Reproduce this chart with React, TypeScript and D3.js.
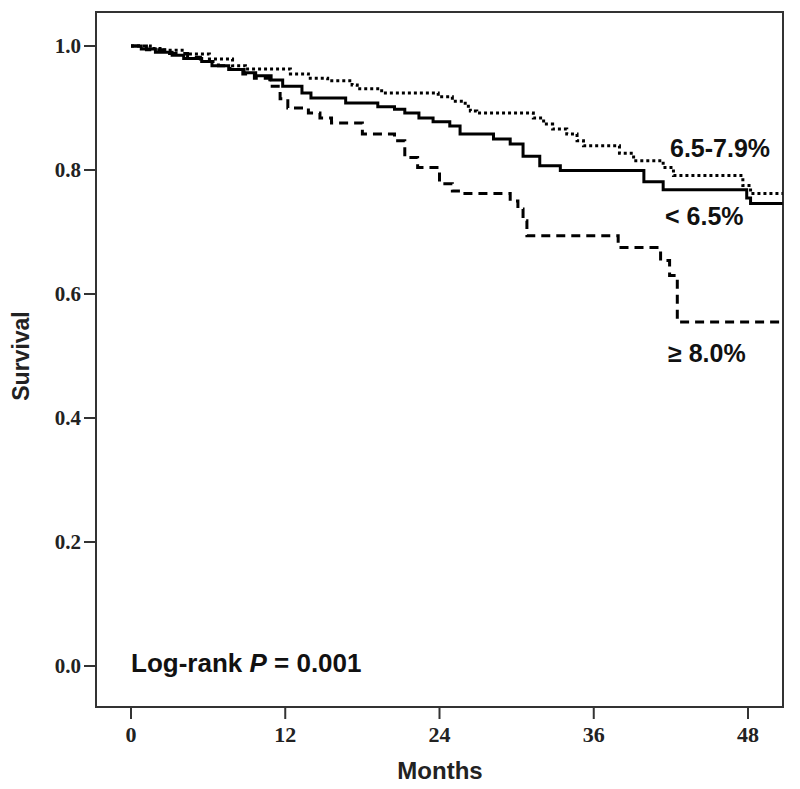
import * as d3 from "d3";

const MONTH_TICKS = [0, 12, 24, 36, 48];
const SURV_TICKS = [0, 0.2, 0.4, 0.6, 0.8, 1.0];
const END_MONTH = 50.7;

// < 6.5%  (solid)
const lowTime = [0, 0.8, 1.9, 3.2, 4.1, 5.5, 6.3, 7.6, 8.8, 9.7, 10.9, 11.8, 13.3, 14, 16.7, 19.2, 20.5, 21.3, 22.4, 23.5, 24.8, 25.6, 28.2, 29.5, 30.5, 31.8, 33.4, 39.9, 41.4, 47.9, 48.2];
const lowSurv = [1, 0.995, 0.99, 0.985, 0.98, 0.975, 0.968, 0.962, 0.957, 0.952, 0.945, 0.935, 0.924, 0.916, 0.908, 0.902, 0.898, 0.892, 0.884, 0.878, 0.871, 0.858, 0.85, 0.842, 0.822, 0.807, 0.799, 0.781, 0.768, 0.755, 0.746];

// 6.5-7.9%  (dotted)
const midTime = [0, 1.5, 2.6, 4.2, 6.1, 7.9, 8.9, 12.4, 13.8, 15.3, 17.2, 17.6, 19.5, 23.9, 25.0, 26.0, 26.4, 26.9, 31.3, 32.1, 32.8, 33.9, 34.7, 35.2, 38.0, 39.1, 41.4, 42.2, 47.6, 48.2];
const midSurv = [1, 0.996, 0.993, 0.987, 0.979, 0.968, 0.963, 0.955, 0.948, 0.944, 0.937, 0.931, 0.924, 0.918, 0.911, 0.903, 0.895, 0.892, 0.884, 0.874, 0.866, 0.858, 0.847, 0.839, 0.827, 0.815, 0.804, 0.791, 0.775, 0.762];

// >= 8.0%  (dashed)
const highTime = [0, 1.2, 3.0, 4.4, 5.4, 6.8, 7.7, 8.7, 9.6, 10.8, 11.6, 12.2, 13.8, 14.7, 15.6, 18.0, 20.5, 21.3, 22.3, 24.0, 25.0, 25.6, 29.5, 30.1, 30.5, 30.8, 37.9, 41.2, 41.9, 42.5];
const highSurv = [1, 0.994, 0.988, 0.982, 0.975, 0.968, 0.962, 0.955, 0.948, 0.935, 0.915, 0.9, 0.892, 0.884, 0.876, 0.858, 0.847, 0.82, 0.804, 0.778, 0.766, 0.762, 0.75, 0.737, 0.718, 0.694, 0.675, 0.654, 0.63, 0.555];

const SERIES = [
  { name: "< 6.5%", time: lowTime, surv: lowSurv, dash: "none" },
  { name: "6.5-7.9%", time: midTime, surv: midSurv, dash: "3,3" },
  { name: "≥ 8.0%", time: highTime, surv: highSurv, dash: "9,6" },
];

const W = 800;
const H = 789;

const FRAME = { left: 96, top: 12, right: 783, bottom: 707 };

const SANS = "'Liberation Sans', Arial, sans-serif";
const SERIF = "'Liberation Serif', 'Times New Roman', serif";
const AXIS_COLOR = "#333";

export default function App() {
  const x = d3.scaleLinear().domain([0, 48]).range([131, 748]);
  const y = d3.scaleLinear().domain([0, 1]).range([666, 46]);

  const line = d3
    .line<[number, number]>()
    .x((d) => x(d[0]))
    .y((d) => y(d[1]))
    .curve(d3.curveStepAfter);

  return (
    <svg
      width={W}
      height={H}
      style={{ position: "absolute", left: 0, top: 0, background: "#fff" }}
      xmlns="http://www.w3.org/2000/svg"
    >
      {/* frame */}
      <rect
        x={FRAME.left}
        y={FRAME.top}
        width={FRAME.right - FRAME.left}
        height={FRAME.bottom - FRAME.top}
        fill="none"
        stroke={AXIS_COLOR}
        strokeWidth={2}
      />

      {/* y axis */}
      {SURV_TICKS.map((t) => (
        <g key={t}>
          <line x1={FRAME.left - 12} x2={FRAME.left} y1={y(t)} y2={y(t)} stroke={AXIS_COLOR} strokeWidth={2} />
          <text
            x={FRAME.left - 15}
            y={y(t)}
            dy="0.35em"
            textAnchor="end"
            fontFamily={SERIF}
            fontWeight="bold"
            fontSize={21}
            fill="#222"
          >
            {t.toFixed(1)}
          </text>
        </g>
      ))}

      {/* x axis */}
      {MONTH_TICKS.map((t) => (
        <g key={t}>
          <line x1={x(t)} x2={x(t)} y1={FRAME.bottom} y2={FRAME.bottom + 12} stroke={AXIS_COLOR} strokeWidth={2} />
          <text
            x={x(t)}
            y={FRAME.bottom + 35}
            textAnchor="middle"
            fontFamily={SERIF}
            fontWeight="bold"
            fontSize={22}
            fill="#222"
          >
            {t}
          </text>
        </g>
      ))}

      <text x={440} y={779} textAnchor="middle" fontFamily={SANS} fontWeight="bold" fontSize={24} fill="#222">
        Months
      </text>
      <text
        transform="translate(29,356) rotate(-90)"
        textAnchor="middle"
        fontFamily={SANS}
        fontWeight="bold"
        fontSize={23}
        fill="#222"
      >
        Survival
      </text>

      {/* curves */}
      {SERIES.map((s) => {
        const pts: [number, number][] = s.time.map((t, i) => [t, s.surv[i]]);
        pts.push([END_MONTH, s.surv[s.surv.length - 1]]);
        return (
          <path
            key={s.name}
            d={line(pts) ?? undefined}
            fill="none"
            stroke="#000"
            strokeWidth={3}
            strokeDasharray={s.dash}
          />
        );
      })}

      {/* labels */}
      <g fontFamily={SANS} fontWeight="bold" fontSize={25} fill="#111">
        <text x={670} y={157}>6.5-7.9%</text>
        <text x={665} y={225}>&lt; 6.5%</text>
        <text x={668} y={362}>≥ 8.0%</text>
        <text x={131} y={672} fontSize={26}>
          Log-rank <tspan fontStyle="italic">P</tspan> = 0.001
        </text>
      </g>
    </svg>
  );
}
